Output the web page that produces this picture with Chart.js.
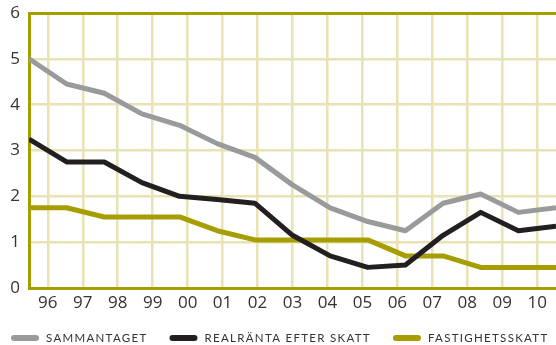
<!DOCTYPE html>
<html lang="sv">
<head>
<meta charset="UTF-8">
<title>Sammantaget</title>
<script src="https://cdn.jsdelivr.net/npm/chart.js@4/dist/chart.umd.min.js"></script>
<style>
  html, body { margin: 0; padding: 0; background: #fff; overflow: hidden; }
  #wrap { width: 556px; height: 345px; }
</style>
</head>
<body>
<div id="wrap"><canvas id="line-chart" width="556" height="345"></canvas></div>
<script>
const years = ['96', '97', '98', '99', '00', '01', '02', '03', '04', '05', '06', '07', '08', '09', '10'];
const sammantaget = [5.0, 4.45, 4.25, 3.8, 3.55, 3.15, 2.85, 2.25, 1.75, 1.45, 1.25, 1.85, 2.05, 1.65, 1.75];
const realranta = [3.25, 2.75, 2.75, 2.3, 2.0, 1.93, 1.85, 1.15, 0.7, 0.45, 0.5, 1.15, 1.65, 1.25, 1.35];
const fastighetsskatt = [1.75, 1.75, 1.55, 1.55, 1.55, 1.25, 1.05, 1.05, 1.05, 1.05, 0.7, 0.7, 0.45, 0.45, 0.45];
const yTicks = [0, 1, 2, 3, 4, 5, 6];

const GOLD = '#a69d00';
const GRID = '#e8e2b5';
const TEXT = '#333333';

const toPoints = arr => arr.map((v, i) => ({ x: i, y: v }));

// year labels sit between the data points, spread from 0.5 to 13.5
const last = years.length - 1;
const yearTick = k => 0.5 + k * (last - 1) / last;

// legend: rounded line swatch + spaced capitals
const pillLegend = {
  id: 'pillLegend',
  afterDraw(chart) {
    const ctx = chart.ctx;
    ctx.save();
    ctx.font = '11.5px Lato';
    ctx.letterSpacing = '1.3px';
    ctx.textBaseline = 'middle';
    let x = 11;
    const y = 338;
    chart.data.datasets.forEach(ds => {
      ctx.strokeStyle = ds.borderColor;
      ctx.lineWidth = 6;
      ctx.lineCap = 'round';
      ctx.beginPath();
      ctx.moveTo(x + 3, y);
      ctx.lineTo(x + 25, y);
      ctx.stroke();
      x += 35;
      ctx.fillStyle = TEXT;
      ctx.fillText(ds.label, x, y);
      x += ctx.measureText(ds.label).width + 22;
    });
    ctx.restore();
  }
};

const lineStyle = color => ({
  borderColor: color,
  backgroundColor: color,
  borderWidth: 5,
  pointRadius: 0,
  tension: 0,
  fill: false,
  borderJoinStyle: 'round',
  borderCapStyle: 'butt'
});

new Chart(document.getElementById('line-chart'), {
  type: 'line',
  data: {
    datasets: [
      Object.assign({ label: 'SAMMANTAGET', data: toPoints(sammantaget) }, lineStyle('#999a9c')),
      Object.assign({ label: 'REALRÄNTA EFTER SKATT', data: toPoints(realranta) }, lineStyle('#231f20')),
      Object.assign({ label: 'FASTIGHETSSKATT', data: toPoints(fastighetsskatt) }, lineStyle(GOLD))
    ]
  },
  options: {
    responsive: false,
    animation: false,
    layout: { padding: { top: 0, right: 0, bottom: 31, left: 0 } },
    plugins: {
      legend: { display: false },
      tooltip: { enabled: false }
    },
    scales: {
      x: {
        type: 'linear',
        min: 0,
        max: last,
        afterBuildTicks: scale => {
          scale.ticks = years.map((_, k) => ({ value: yearTick(k) }));
        },
        afterFit: scale => { scale.height = 26; },
        ticks: {
          autoSkip: false,
          maxRotation: 0,
          padding: 5,
          color: TEXT,
          font: { family: 'Open Sans', size: 17 },
          callback: (v, i) => years[i]
        },
        grid: { color: GRID, lineWidth: 2.5, drawTicks: false },
        border: { color: GOLD, width: 3 }
      },
      y: {
        min: 0,
        max: 6,
        afterBuildTicks: scale => {
          scale.ticks = yTicks.map(v => ({ value: v }));
        },
        afterFit: scale => {
          scale.width = 29;
          scale.paddingTop = 13;
        },
        ticks: {
          padding: 9,
          color: TEXT,
          font: { family: 'Open Sans', size: 17 }
        },
        grid: {
          drawTicks: false,
          color: c => (c.tick.value === 0 || c.tick.value === 6) ? GOLD : GRID,
          lineWidth: c => (c.tick.value === 0 || c.tick.value === 6) ? 3 : 2.5
        },
        border: { color: GOLD, width: 3 }
      }
    }
  },
  plugins: [pillLegend]
});
</script>
</body>
</html>
